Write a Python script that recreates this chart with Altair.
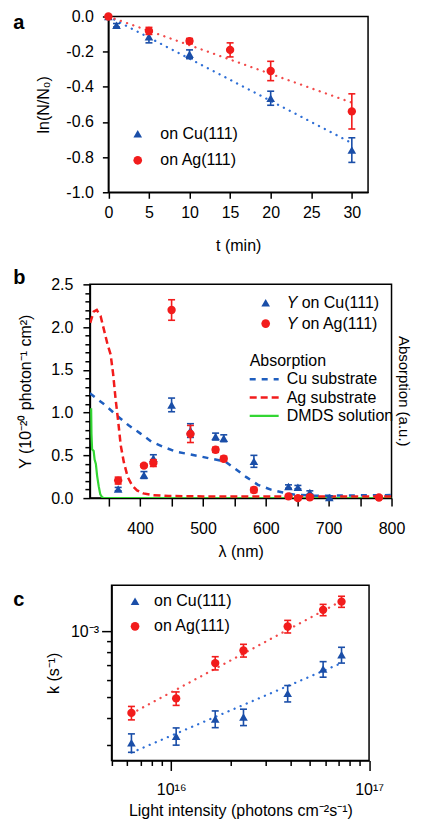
import altair as alt
import pandas as pd

FONT = "Liberation Sans"
BLUE = "#1a4ea8"
BLUE_FIT = "#2f6fd6"
BLUE_DASH = "#1f5ebf"
RED = "#f21c1c"
RED_FIT = "#f24a4a"
GREEN = "#33d633"

# ---------------- panel a data ----------------
t_cu = [0, 1, 5, 10, 20, 30]
lnN_cu = [0.0, -0.05, -0.115, -0.215, -0.465, -0.76]
err_a_cu = [0.0, 0.01, 0.035, 0.025, 0.04, 0.07]
t_ag = [0, 5, 10, 15, 20, 30]
lnN_ag = [0.0, -0.082, -0.14, -0.19, -0.31, -0.54]
err_a_ag = [0.0, 0.02, 0.015, 0.04, 0.055, 0.10]
fit_t = [0, 30]
fit_a_cu = [0.0, -0.72]
fit_a_ag = [0.0, -0.49]
a_xticks = [0, 5, 10, 15, 20, 25, 30]
a_yticks = [-1.0, -0.8, -0.6, -0.4, -0.2, 0.0]

# ---------------- panel b data ----------------
lam_cu = [365, 406, 421, 450, 480, 520, 533, 581, 636, 651, 670, 701]
Y_cu = [0.105, 0.27, 0.467, 1.09, 0.79, 0.72, 0.70, 0.43, 0.135, 0.128, 0.065, 0.007]
eY_cu = [0.02, 0.04, 0.04, 0.08, 0.08, 0.04, 0.04, 0.07, 0.02, 0.02, 0.02, 0.02]
lam_ag = [365, 406, 421, 450, 480, 520, 533, 581, 636, 651, 670, 780]
Y_ag = [0.205, 0.38, 0.41, 2.20, 0.75, 0.565, 0.46, 0.095, 0.02, 0.0, 0.01, 0.007]
eY_ag = [0.04, 0.02, 0.04, 0.12, 0.10, 0.03, 0.03, 0.03, 0.02, 0.02, 0.02, 0.02]

abs_cu_nm = [320, 344, 362, 381, 399.5, 418, 436.5, 458, 476, 497.5, 513, 535, 550,
             569, 587.5, 609, 627, 648, 680, 720, 760, 800]
abs_cu_val = [1.225, 1.09, 0.97, 0.855, 0.76, 0.66, 0.60, 0.54, 0.517, 0.485, 0.46, 0.43,
              0.35, 0.245, 0.155, 0.097, 0.065, 0.038, 0.027, 0.03, 0.033, 0.035]
abs_ag_nm = [320.5, 326, 331, 337, 343, 348, 353, 357, 361, 365, 369, 374, 380, 387,
             395, 405, 420, 445, 500, 800]
abs_ag_val = [2.05, 2.18, 2.2, 2.13, 1.95, 1.8, 1.68, 1.45, 1.15, 0.9, 0.62, 0.42, 0.25,
              0.15, 0.09, 0.055, 0.035, 0.025, 0.02, 0.02]
dmds_nm = [322, 322.5, 323.5, 326, 327.5, 329.5, 331.5, 334, 336.5, 339, 342, 800]
dmds_val = [1.05, 0.75, 0.57, 0.55, 0.45, 0.40, 0.26, 0.14, 0.045, 0.015, 0.0, 0.0]
b_xticks = [350, 400, 450, 500, 550, 600, 650, 700, 750, 800]
b_yticks = [round(i * 0.1, 1) for i in range(26)]

# ---------------- panel c data ----------------
I_vals = [6.3e15, 1.06e16, 1.67e16, 2.32e16, 3.88e16, 5.86e16, 7.26e16]
k_cu = [3.09e-4, 3.31e-4, 3.97e-4, 4.05e-4, 5.20e-4, 6.72e-4, 7.81e-4]
ek_cu = [0.30e-4, 0.30e-4, 0.35e-4, 0.35e-4, 0.45e-4, 0.55e-4, 0.65e-4]
k_ag = [4.23e-4, 4.93e-4, 7.16e-4, 8.18e-4, 1.054e-3, 1.256e-3, 1.37e-3]
ek_ag = [0.30e-4, 0.35e-4, 0.50e-4, 0.55e-4, 0.70e-4, 0.75e-4, 0.80e-4]
fit_I = [6.3e15, 7.26e16]
fit_c_cu = [2.78e-4, 7.16e-4]
fit_c_ag = [4.2e-4, 1.38e-3]
c_xticks = [5e15, 6e15, 7e15, 8e15, 9e15, 1e16, 2e16, 3e16, 4e16, 5e16, 6e16, 7e16, 8e16,
            9e16, 1e17]
c_yticks = [3e-4, 4e-4, 5e-4, 6e-4, 7e-4, 8e-4, 9e-4, 1e-3]

legend_labels = ["on Cu(111)", "on Ag(111)"]

DOT = [0.1, 6.5]
LETTER_X = -76.8


def one():
    return alt.Data(values=[{}])


def vtext(txt, x, y, size=16, weight="normal", style="normal", align="left",
          baseline="middle", angle=0, color="black", opacity=1):
    return alt.Chart(one()).mark_text(
        text=txt, font=FONT, fontSize=size, fontWeight=weight, fontStyle=style,
        align=align, baseline=baseline, angle=angle, color=color, opacity=opacity
    ).encode(x=alt.value(x), y=alt.value(y))


def vsym(shape, color, x, y, size=75):
    return alt.Chart(one()).mark_point(
        shape=shape, filled=True, size=size, color=color, opacity=1, strokeWidth=0
    ).encode(x=alt.value(x), y=alt.value(y))


def vseg(x1, x2, y, color, dash, width=2.5):
    return alt.Chart(one()).mark_rule(
        color=color, strokeDash=dash, strokeWidth=width
    ).encode(x=alt.value(x1), x2=alt.value(x2), y=alt.value(y))


def frame(x1, x2, y1, y2):
    return alt.Chart(one()).mark_rect(
        fillOpacity=0, stroke="black", strokeWidth=1.5
    ).encode(x=alt.value(x1), x2=alt.value(x2), y=alt.value(y1), y2=alt.value(y2))


def ax(**kw):
    base = dict(domainColor="black", domainWidth=1.5, tickColor="black", tickWidth=1.5,
                labelFont=FONT, labelFontSize=16, labelColor="black", titleFont=FONT,
                titleFontSize=16, titleFontWeight="normal", titleColor="black", grid=False,
                labelOverlap=False, labelFlush=False, labelBound=False)
    base.update(kw)
    return alt.Axis(**base)


def series(xs, ys, es, xname, yname):
    return pd.DataFrame({xname: xs, yname: ys,
                         "lo": [v - e for v, e in zip(ys, es)],
                         "hi": [v + e for v, e in zip(ys, es)]})


def scatter_layers(df, X, Y, yfield, color, shape, size, cap=7):
    rule = alt.Chart(df).mark_rule(color=color, strokeWidth=1.6).encode(
        x=X, y=Y("lo:Q"), y2="hi:Q")
    caps_lo = alt.Chart(df).mark_tick(color=color, orient="horizontal", size=cap,
                                      thickness=1.6, opacity=1).encode(x=X, y=Y("lo:Q"))
    caps_hi = alt.Chart(df).mark_tick(color=color, orient="horizontal", size=cap,
                                      thickness=1.6, opacity=1).encode(x=X, y=Y("hi:Q"))
    pts = alt.Chart(df).mark_point(shape=shape, filled=True, size=size, color=color,
                                   opacity=1, strokeWidth=0).encode(x=X, y=Y(yfield))
    return [rule, caps_lo, caps_hi, pts]


def make_enc(cls, field_default, scale, axis):
    def f(field=field_default):
        return cls(field, scale=scale, axis=axis, title=axis.title)
    return f


# ================= panel a =================
VWA, VHA = 278.5, 180.8
A_X0, A_X1, A_H = 18.5, 278.5, 176
sxa = alt.Scale(domain=[0, 32], range=[A_X0, A_X1], nice=False, zero=False)
sya = alt.Scale(domain=[-1.0, 0.0], range=[A_H, 0], nice=False, zero=False)
axa = ax(values=a_xticks, title="t (min)", tickSize=6, labelPadding=6, offset=-(VHA - A_H),
         titleX=(A_X0 + A_X1) / 2, titleY=53, titleBaseline="middle")
aya = ax(values=a_yticks, title="ln(N/N₀)", tickSize=6, labelPadding=9, offset=-A_X0,
         labelExpr="replace(format(datum.value, '.1f'), '\u2212', '-')",
         titleX=-65, titleY=A_H / 2, titleBaseline="middle", titleAngle=-90)
XA = make_enc(alt.X, "t:Q", sxa, axa)
YA = make_enc(alt.Y, "v:Q", sya, aya)

df_a_cu = series(t_cu, lnN_cu, err_a_cu, "t", "v")
df_a_ag = series(t_ag, lnN_ag, err_a_ag, "t", "v")
fit_a_cu_df = pd.DataFrame({"t": fit_t, "v": fit_a_cu})
fit_a_ag_df = pd.DataFrame({"t": fit_t, "v": fit_a_ag})

la = [frame(A_X0, A_X1, 0, A_H)]
la.append(alt.Chart(fit_a_cu_df).mark_line(
    color=BLUE_FIT, strokeDash=DOT, strokeWidth=2.3, strokeCap="round").encode(x=XA(), y=YA()))
la.append(alt.Chart(fit_a_ag_df).mark_line(
    color=RED_FIT, strokeDash=DOT, strokeWidth=2.3, strokeCap="round").encode(x=XA(), y=YA()))
la += scatter_layers(df_a_cu, XA(), YA, "v:Q", BLUE, "triangle-up", 75)
la += scatter_layers(df_a_ag, XA(), YA, "v:Q", RED, "circle", 70)
la.append(vsym("triangle-up", BLUE, A_X0 + 29.4, 117.3))
la.append(vsym("circle", RED, A_X0 + 29.4, 144, 75))
la.append(vtext(legend_labels[0], A_X0 + 52, 117.3))
la.append(vtext(legend_labels[1], A_X0 + 52, 144))
la.append(vtext("a", LETTER_X, 12.3, size=20, weight="bold", baseline="alphabetic"))
panel_a = alt.layer(*la).properties(width=VWA, height=VHA)

# ================= panel b =================
WB, HB = 302, 214
minor_b = "abs(datum.value*2 - round(datum.value*2)) < 0.001"
sxb = alt.Scale(domain=[320, 800], nice=False, zero=False)
syb = alt.Scale(domain=[0, 2.5], nice=False, zero=False)
axb = ax(values=b_xticks, title="λ (nm)", tickSize=8, labelPadding=14,
         labelExpr="datum.value % 100 == 0 ? '' + datum.value : ''",
         titleX=WB / 2, titleY=53.4, titleBaseline="middle")
ayb = ax(values=b_yticks, title="Y (10⁻²⁰ photon⁻¹ cm²)",
         tickSize={"condition": {"test": minor_b, "value": 7}, "value": 5},
         labelPadding=10,
         labelExpr=minor_b + " ? format(datum.value, '.1f') : ''",
         titleX=-64.5, titleY=HB / 2, titleBaseline="middle", titleAngle=-90)
XB = make_enc(alt.X, "nm:Q", sxb, axb)
YB = make_enc(alt.Y, "v:Q", syb, ayb)

df_b_cu = series(lam_cu, Y_cu, eY_cu, "nm", "v")
df_b_ag = series(lam_ag, Y_ag, eY_ag, "nm", "v")
curve_cu = pd.DataFrame({"nm": abs_cu_nm, "v": abs_cu_val})
curve_ag = pd.DataFrame({"nm": abs_ag_nm, "v": abs_ag_val})
curve_dm = pd.DataFrame({"nm": dmds_nm, "v": dmds_val})

lb = [frame(0, WB, 0, HB)]
lb.append(alt.Chart(curve_dm).mark_line(color=GREEN, strokeWidth=2.2, clip=True).encode(x=XB(), y=YB()))
lb.append(alt.Chart(curve_cu).mark_line(color=BLUE_DASH, strokeDash=[6, 6], strokeWidth=2.5,
                                        clip=True).encode(x=XB(), y=YB()))
lb.append(alt.Chart(curve_ag).mark_line(color=RED, strokeDash=[7, 4], strokeWidth=2.5,
                                        clip=True).encode(x=XB(), y=YB()))
lb += scatter_layers(df_b_cu, XB(), YB, "v:Q", BLUE, "triangle-up", 75)
lb += scatter_layers(df_b_ag, XB(), YB, "v:Q", RED, "circle", 70)
lb.append(vsym("triangle-up", BLUE, 176, 18.3))
lb.append(vsym("circle", RED, 176, 39.3, 75))
lb.append(vtext("Y", 197, 18.3, style="italic"))
lb.append(vtext(legend_labels[0], 212, 18.3))
lb.append(vtext("Y", 197, 39.3, style="italic"))
lb.append(vtext(legend_labels[1], 212, 39.3))
lb.append(vtext("Absorption", 160, 76.7))
lb.append(vseg(160, 189, 95, BLUE_DASH, [6, 6]))
lb.append(vseg(160, 189, 113.3, RED, [7, 4]))
lb.append(vseg(160, 189, 131.7, GREEN, [1, 0], 2.2))
lb.append(vtext("Cu substrate", 197, 95))
lb.append(vtext("Ag substrate", 197, 113.3))
lb.append(vtext("DMDS solution", 197, 131.7))
lb.append(vtext("Absorption (a.u.)", WB + 12.2, HB / 2, size=15, align="center", angle=90))
lb.append(vtext("b", LETTER_X, -0.7, size=20, weight="bold", baseline="alphabetic"))
panel_b = alt.layer(*lb).properties(width=WB, height=HB)

# ================= panel c =================
VWC, HC = 279.5, 175.5
C_X0 = 21.7
major_cx = "datum.value == 1e16 || datum.value == 1e17"
sxc = alt.Scale(type="log", domain=[5e15, 1e17], range=[C_X0, VWC], nice=False)
syc = alt.Scale(type="log", domain=[2.56e-4, 1.63e-3], nice=False)
axc = ax(values=c_xticks, title="Light intensity (photons cm⁻²s⁻¹)",
         tickSize={"condition": {"test": major_cx, "value": 10}, "value": 5},
         labelPadding=11,
         labelExpr="datum.value == 1e16 ? '10¹⁶' : (datum.value == 1e17 ? '10¹⁷' : '')",
         titleX=(C_X0 + VWC) / 2, titleY=50, titleBaseline="middle")
major_cy = "datum.value == 0.001"
ayc = ax(values=c_yticks, title="k (s⁻¹)", offset=-C_X0,
         tickSize={"condition": {"test": major_cy, "value": 10}, "value": 5},
         labelPadding=3,
         labelExpr="datum.value == 0.001 ? '10⁻³' : ''",
         titleX=-58.2, titleY=HC / 2, titleBaseline="middle", titleAngle=-90)
XC = make_enc(alt.X, "I:Q", sxc, axc)
YC = make_enc(alt.Y, "k:Q", syc, ayc)

df_c_cu = series(I_vals, k_cu, ek_cu, "I", "k")
df_c_ag = series(I_vals, k_ag, ek_ag, "I", "k")
fit_c_cu_df = pd.DataFrame({"I": fit_I, "k": fit_c_cu})
fit_c_ag_df = pd.DataFrame({"I": fit_I, "k": fit_c_ag})

lc = [frame(C_X0, VWC, 0, HC)]
lc.append(alt.Chart(fit_c_cu_df).mark_line(
    color=BLUE_FIT, strokeDash=DOT, strokeWidth=2.3, strokeCap="round").encode(x=XC(), y=YC()))
lc.append(alt.Chart(fit_c_ag_df).mark_line(
    color=RED_FIT, strokeDash=DOT, strokeWidth=2.3, strokeCap="round").encode(x=XC(), y=YC()))
lc += scatter_layers(df_c_cu, XC(), YC, "k:Q", BLUE, "triangle-up", 75)
lc += scatter_layers(df_c_ag, XC(), YC, "k:Q", RED, "circle", 70)
lc.append(vsym("triangle-up", BLUE, C_X0 + 23.5, 16.2))
lc.append(vsym("circle", RED, C_X0 + 23.5, 41.2, 75))
lc.append(vtext(legend_labels[0], C_X0 + 42.5, 16.2))
lc.append(vtext(legend_labels[1], C_X0 + 42.5, 41.2))
lc.append(vtext("c", LETTER_X, 21.2, size=20, weight="bold", baseline="alphabetic"))
panel_c = alt.layer(*lc).properties(width=VWC, height=HC)

chart = alt.vconcat(panel_a, panel_b, panel_c, spacing=87.2, bounds="flush").properties(
    padding={"left": 5, "top": 0, "right": 1.5, "bottom": 0}
).configure_view(stroke=None).configure_axis(labelOverlap=False)

chart.save("out.html", embed_options={"renderer": "svg", "actions": False})
